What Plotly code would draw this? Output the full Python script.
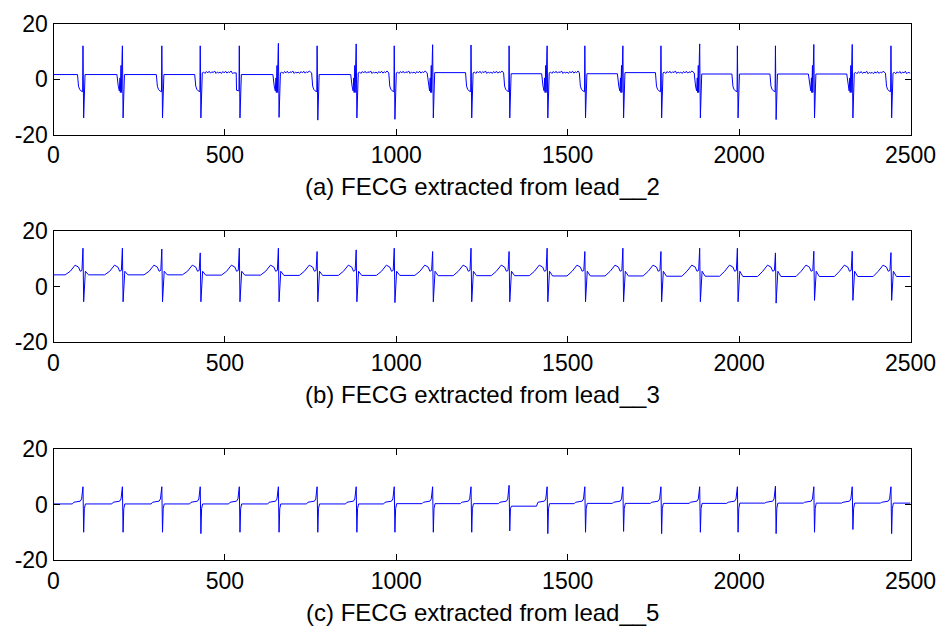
import plotly.graph_objects as go

# ---------------- data ----------------
beat_pos = [86, 201, 316, 428, 542, 656, 769, 883, 994, 1106, 1218,
            1329, 1440, 1550, 1661, 1772, 1885, 1995, 2106, 2218, 2330, 2443]

# lead 2 (panel a)
lead2_peak = [12.1, 12.1, 12.1, 12.1, 12.1, 13.0, 12.1, 12.8, 12.1, 12.5, 12.4,
              12.1, 12.1, 12.1, 12.1, 12.1, 12.8, 12.1, 12.1, 12.6, 12.6, 12.1]
lead2_trough = [-14.0, -14.0, -14.0, -14.0, -14.0, -13.8, -14.8, -14.0, -14.5, -14.0, -14.0,
                -14.0, -14.0, -14.0, -14.0, -14.0, -14.0, -14.0, -14.6, -14.0, -14.0, -14.0]
lead2_base = [1.7, 1.7, 1.7, 1.7, 2.3, 1.7, 2.3, 1.7, 2.3, 2.3, 2.4, 2.3,
              2.0, 2.3, 2.0, 2.4, 2.3, 1.9, 1.9, 1.9, 1.9, 2.2, 2.2]
lead2_noisy = [0, 0, 0, 1, 0, 1, 0, 1, 1, 0, 1, 0, 1, 0, 0, 1, 0, 0, 0, 0, 1, 1]
lead2_burst = [0, 1, 0, 0, 0, 1, 0, 1, 0, 1, 0, 0, 1, 0, 1, 0, 1, 0, 0, 1, 1, 0]
lead2_stepdip = [0, 0, 0, 0, 1, 0, 0, 0, 0, 0, 0, 0, 0, 0, 0, 0, 0, 0, 0, 0, 0, 0]
lead2_ripple = [0.3, -0.2, 0.5, 0.0, 0.6, -0.1, 0.4, 0.1, 0.7, -0.2, 0.3, 0.0]
lead2_dip_off = [-16, -13, -10, -6, -1]
lead2_dip_val = [0.0, -2.5, -3.6, -4.2, -4.5]
lead2_step_off = [-9, -8, -1]
lead2_step_val = [0.0, -4.0, -4.2]
lead2_burst_off = [-16, -12, -9, -7, -6, -4, -3, -1]
lead2_burst_val = [0.0, -2.5, -4.2, 0.5, -4.8, 5.0, -4.8, 8.0]

# lead 3 (panel b)
lead3_peak = [13.8, 13.8, 13.5, 12.1, 13.8, 13.8, 12.6, 13.2, 13.8, 12.6, 13.8,
              12.6, 13.8, 12.6, 13.8, 12.6, 13.8, 13.8, 12.1, 12.7, 12.7, 12.2]
lead3_trough = [-5.5, -5.5, -5.5, -5.5, -5.5, -5.5, -5.5, -5.5, -5.8, -5.5, -5.5,
                -5.5, -5.5, -5.5, -5.5, -5.5, -5.5, -5.5, -6.0, -5.0, -5.0, -5.0]
lead3_base = [4.2, 4.2, 4.2, 4.2, 4.1, 4.1, 4.0, 4.0, 4.0, 4.0, 3.9, 3.9,
              3.9, 3.8, 3.8, 3.8, 3.7, 3.7, 3.6, 3.6, 3.6, 3.6, 3.6]
lead3_off = [-52, -37, -23, -13, -8, -3, 0, 2, 7, 16]
lead3_shape = [0.0, 5.5, 7.7, 7.0, 5.5, 5.8, None, None, 5.5, 0.0]

# lead 5 (panel c)
lead5_peak = [6.4, 6.4, 6.4, 6.4, 6.4, 6.4, 6.4, 6.4, 6.4, 6.4, 6.4,
              6.9, 6.4, 6.4, 6.4, 6.4, 6.4, 6.4, 6.6, 6.4, 6.4, 6.4]
lead5_trough = [-10.0, -10.0, -10.0, -10.5, -10.0, -10.0, -10.0, -10.0, -10.0, -10.0, -10.0,
                -9.5, -10.5, -10.0, -9.7, -10.5, -10.0, -10.0, -10.5, -10.0, -9.0, -10.5]
lead5_base = [0.2, 0.2, 0.2, 0.2, 0.2, 0.2, 0.2, 0.2, 0.2, 0.3, 0.3, 0.3,
              -0.6, 0.3, 0.4, 0.4, 0.4, 0.4, 0.5, 0.5, 0.5, 0.5, 0.5]
lead5_off = [-31, -27, -8, -4, 0, 2, 4, 7]
lead5_shape = [0.0, 0.8, 1.2, 2.0, None, None, -1.5, 0.0]

x_ticks = [0, 500, 1000, 1500, 2000, 2500]
y_ticks = [-20, 0, 20]
y_ticktext = ["-20", "0", "20"]
titles = ["(a) FECG extracted from lead__2",
          "(b) FECG extracted from lead__3",
          "(c) FECG extracted from lead__5"]

# ---------------- build traces ----------------
n = len(beat_pos)


def build_lead2():
    xs, ys = [0], [lead2_base[0]]
    for i, p in enumerate(beat_pos):
        b = lead2_base[i]
        if lead2_stepdip[i]:
            offs, vals = lead2_step_off, lead2_step_val
        elif lead2_burst[i]:
            offs, vals = lead2_burst_off, lead2_burst_val
        else:
            offs, vals = lead2_dip_off, lead2_dip_val
        for k, (o, v) in enumerate(zip(offs, vals)):
            xs.append(p + o)
            ys.append(b if k == 0 else v)
        xs += [p, p + 2]
        ys += [lead2_peak[i], lead2_trough[i]]
        bn = lead2_base[i + 1]
        xs.append(p + 6)
        ys.append(bn)
        end = beat_pos[i + 1] - 16 if i + 1 < n else 2500
        if lead2_noisy[i]:
            k = 0
            for xx in range(p + 10, end - 3, 4):
                xs.append(xx)
                ys.append(bn + lead2_ripple[k % len(lead2_ripple)])
                k += 1
        xs.append(end)
        ys.append(bn)
    return xs, ys


def build_generic(base, peak, trough, offs, shape):
    xs, ys = [0], [base[0]]
    for i, p in enumerate(beat_pos):
        b_before = base[i]
        b_after = base[i + 1]
        for o, v in zip(offs, shape):
            if p + o < 0:
                continue
            xs.append(p + o)
            if o == 0:
                ys.append(peak[i])
            elif o == 2:
                ys.append(trough[i])
            elif v == 0.0:
                ys.append(b_before if o < 0 else b_after)
            else:
                ys.append(v)
    xs.append(2500)
    ys.append(base[-1])
    return xs, ys


x2, y2 = build_lead2()
x3, y3 = build_generic(lead3_base, lead3_peak, lead3_trough, lead3_off, lead3_shape)
x5, y5 = build_generic(lead5_base, lead5_peak, lead5_trough, lead5_off, lead5_shape)

# ---------------- figure ----------------
W, H = 941, 626
fig = go.Figure()
series = [(x2, y2), (x3, y3), (x5, y5)]
for k, (xx, yy) in enumerate(series):
    fig.add_trace(go.Scatter(x=xx, y=yy, mode="lines",
                             line=dict(color="#0000FF", width=1),
                             xaxis="x" if k == 0 else f"x{k+1}",
                             yaxis="y" if k == 0 else f"y{k+1}",
                             showlegend=False, hoverinfo="skip"))

x_dom = [53.5 / W, 910.5 / W]
panels_px = [(24, 134.5), (231, 342), (449, 560)]
font = dict(family="Liberation Sans, Arial, sans-serif", size=23, color="black")
layout = dict(width=W, height=H, margin=dict(l=0, r=0, t=0, b=0),
              paper_bgcolor="white", plot_bgcolor="white", showlegend=False,
              font=font)
annotations = []
for k, (top, bot) in enumerate(panels_px):
    sfx = "" if k == 0 else str(k + 1)
    layout["xaxis" + sfx] = dict(domain=x_dom, range=[0, 2500], anchor="y" + sfx,
                                 tickmode="array", tickvals=x_ticks,
                                 ticktext=[str(v) for v in x_ticks],
                                 ticks="inside", ticklen=6, tickwidth=1, tickcolor="black",
                                 showline=True, linecolor="black", linewidth=1,
                                 mirror="ticks", showgrid=False, zeroline=False,
                                 automargin=False, tickfont=font)
    layout["yaxis" + sfx] = dict(domain=[1 - bot / H, 1 - top / H], range=[-20, 20],
                                 anchor="x" + sfx,
                                 tickmode="array", tickvals=y_ticks, ticktext=y_ticktext,
                                 ticks="inside", ticklen=6, tickwidth=1, tickcolor="black",
                                 showline=True, linecolor="black", linewidth=1,
                                 mirror="ticks", showgrid=False, zeroline=False,
                                 automargin=False, tickfont=font)
    annotations.append(dict(text=titles[k], xref="paper", yref="paper",
                            x=(x_dom[0] + x_dom[1]) / 2, y=1 - (bot + 52.5) / H,
                            xanchor="center", yanchor="middle", showarrow=False,
                            font=dict(family="Liberation Sans, Arial, sans-serif",
                                      size=24, color="black")))
layout["annotations"] = annotations
fig.update_layout(**layout)
fig.write_html("out.html")
